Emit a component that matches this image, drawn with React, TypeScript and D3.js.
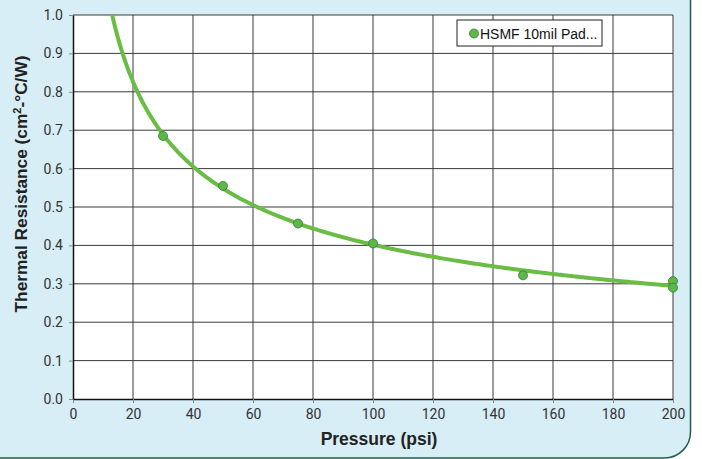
import React, { useEffect, useRef } from "react";
import * as d3 from "d3";

// measured points (psi, cm2-C/W)
const pressure = [30, 50, 75, 100, 150, 200, 200];
const resistance = [0.685, 0.555, 0.457, 0.405, 0.322, 0.307, 0.29];
const xTicks = [0, 20, 40, 60, 80, 100, 120, 140, 160, 180, 200];
const yTicks = [0, 0.1, 0.2, 0.3, 0.4, 0.5, 0.6, 0.7, 0.8, 0.9, 1.0];
const seriesName = "HSMF 10mil Pad...";

const W = 702;
const H = 459;

const App = () => {
  const ref = useRef<SVGSVGElement>(null);

  useEffect(() => {
    const svg = d3.select(ref.current);
    svg.selectAll("*").remove();

    const margin = { top: 15, right: 29, bottom: 60, left: 73 };
    const width = W - margin.left - margin.right;
    const height = H - margin.top - margin.bottom;
    const tickFont = "'Liberation Sans Narrow', 'Roboto', sans-serif";

    // light blue panel with rounded bottom corners
    svg.append("rect")
      .attr("x", -30).attr("y", -40)
      .attr("width", 720.5).attr("height", 498)
      .attr("rx", 26)
      .attr("fill", "#d7eef6")
      .attr("stroke", "#1f5e4c")
      .attr("stroke-width", 1.5);

    const g = svg.append("g")
      .attr("transform", "translate(" + margin.left + "," + margin.top + ")");

    const x = d3.scaleLinear().domain([0, 200]).range([0, width]);
    const y = d3.scaleLinear().domain([0, 1]).range([height, 0]);

    g.append("rect")
      .attr("width", width).attr("height", height)
      .attr("fill", "#fff");

    // grid
    g.append("g")
      .selectAll("line")
      .data(xTicks.slice(1))
      .enter().append("line")
      .attr("x1", (d) => x(d)).attr("x2", (d) => x(d))
      .attr("y1", 0).attr("y2", height)
      .attr("stroke", "#3a3a3a").attr("stroke-width", 1);
    g.append("g")
      .selectAll("line")
      .data(yTicks.slice(1))
      .enter().append("line")
      .attr("x1", 0).attr("x2", width)
      .attr("y1", (d) => y(d)).attr("y2", (d) => y(d))
      .attr("stroke", "#3a3a3a").attr("stroke-width", 1);

    // axes
    const xAxis = g.append("g")
      .attr("transform", "translate(0," + height + ")")
      .call(d3.axisBottom(x).tickValues(xTicks).tickSize(4).tickSizeOuter(0).tickPadding(6));
    const yAxis = g.append("g")
      .call(d3.axisLeft(y).tickValues(yTicks).tickSize(4).tickSizeOuter(0).tickPadding(6).tickFormat(d3.format(".1f")));
    [xAxis, yAxis].forEach((a) => {
      a.select(".domain").attr("stroke", "#111").attr("stroke-width", 1.5);
      a.selectAll(".tick line").attr("stroke", "#888");
      a.selectAll("text")
        .style("font-family", tickFont)
        .style("font-size", "14px")
        .attr("fill", "#333");
    });

    // power trendline fitted to the points (least squares on logs)
    const lx = pressure.map(Math.log);
    const ly = resistance.map(Math.log);
    const mx = d3.mean(lx) as number;
    const my = d3.mean(ly) as number;
    const b = d3.sum(lx, (v, i) => (v - mx) * (ly[i] - my)) / d3.sum(lx, (v) => (v - mx) * (v - mx));
    const a = Math.exp(my - b * mx);
    const fit = d3.range(8, 200.5, 0.5).map((p) => [p, a * Math.pow(p, b)]);

    svg.append("clipPath").attr("id", "plotclip")
      .append("rect").attr("width", width).attr("height", height);

    g.append("path")
      .datum(fit)
      .attr("clip-path", "url(#plotclip)")
      .attr("fill", "none")
      .attr("stroke", "#69bd45")
      .attr("stroke-width", 4)
      .attr("d", d3.line<number[]>().x((d) => x(d[0])).y((d) => y(d[1])));

    g.selectAll(".dot")
      .data(pressure)
      .enter().append("circle")
      .attr("class", "dot")
      .attr("cx", (d) => x(d))
      .attr("cy", (d, i) => y(resistance[i]))
      .attr("r", 4.5)
      .attr("fill", "#5db847")
      .attr("stroke", "#2f7a3a")
      .attr("stroke-width", 0.8);

    // axis titles
    svg.append("text")
      .attr("x", margin.left + width / 2 + 6)
      .attr("y", 445)
      .attr("text-anchor", "middle")
      .style("font-family", "'Liberation Sans', Arial, sans-serif")
      .style("font-weight", "bold")
      .style("font-size", "17.5px")
      .attr("fill", "#222")
      .text("Pressure (psi)");

    const yt = svg.append("text")
      .attr("transform", "translate(27,184) rotate(-90)")
      .attr("text-anchor", "middle")
      .style("font-family", "'Liberation Sans', Arial, sans-serif")
      .style("font-weight", "bold")
      .style("font-size", "17.3px")
      .attr("fill", "#222");
    yt.append("tspan").text("Thermal Resistance (cm");
    yt.append("tspan").attr("dy", -6).style("font-size", "11px").text("2");
    yt.append("tspan").attr("dy", 6).text("-°C/W)");

    // legend
    svg.append("rect")
      .attr("x", 457).attr("y", 20)
      .attr("width", 145).attr("height", 26)
      .attr("fill", "#fff")
      .attr("stroke", "#222").attr("stroke-width", 1);
    svg.append("circle").attr("cx", 474).attr("cy", 33.5).attr("r", 4.5)
      .attr("fill", "#5db847").attr("stroke", "#2f7a3a").attr("stroke-width", 0.8);
    svg.append("text")
      .attr("x", 480).attr("y", 38.5)
      .style("font-family", "'Liberation Sans', Arial, sans-serif")
      .style("font-size", "14px")
      .attr("fill", "#111")
      .text(seriesName);
  }, []);

  return (
    <svg
      ref={ref}
      width={W}
      height={H}
      style={{ position: "absolute", left: 0, top: 0, display: "block" }}
    />
  );
};

export default App;
